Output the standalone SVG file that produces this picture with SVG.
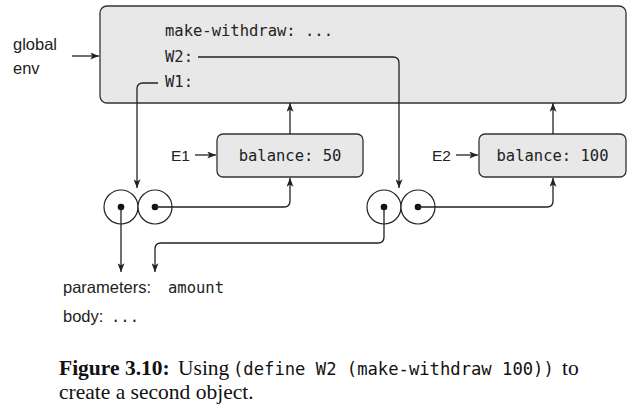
<svg xmlns="http://www.w3.org/2000/svg" width="640" height="411" viewBox="0 0 640 411">
<defs>
<marker id="ah" viewBox="0 0 10 8" refX="10" refY="4" markerWidth="9" markerHeight="7" markerUnits="userSpaceOnUse" orient="auto">
<path d="M0,0 L10,4 L0,8 L2.5,4 Z" fill="#222"/>
</marker>
</defs>
<style>
.frame{fill:#e8e8e8;stroke:#333;stroke-width:1.3}
.mono{font-family:"DejaVu Sans Mono",monospace;font-size:15.5px;fill:#222}
.sans{font-family:"Liberation Sans",Arial,sans-serif;font-size:16.5px;fill:#222}
.lab{font-family:"Liberation Sans",Arial,sans-serif;font-size:15.5px;fill:#222}
.arr{fill:none;stroke:#222;stroke-width:1.3;marker-end:url(#ah)}
.cell{fill:#fff;stroke:#222;stroke-width:1.2}
.dot{fill:#111}
.cap{font-family:"Liberation Serif","Times New Roman",serif;font-size:21.5px;fill:#111}
.capm{font-family:"DejaVu Sans Mono",monospace;font-size:17.2px}
</style>
<rect width="640" height="411" fill="#fff"/>
<g id="global-env">
<rect class="frame" x="100" y="6" width="526" height="97" rx="7"/>
<text class="mono" x="165" y="36">make-withdraw: ...</text>
<text class="mono" x="165" y="61.5">W2:</text>
<text class="mono" x="165" y="87">W1:</text>
</g>
<g id="global-label">
<text class="sans" x="13" y="50">global</text>
<text class="sans" x="13" y="74">env</text>
</g>
<g id="E1">
<rect class="frame" x="217" y="134" width="146" height="43" rx="6"/>
<text class="mono" x="290" y="161" text-anchor="middle">balance: 50</text>
<text class="lab" x="171" y="161">E1</text>
</g>
<g id="E2">
<rect class="frame" x="479" y="134" width="147" height="43" rx="6"/>
<text class="mono" x="552.5" y="161" text-anchor="middle">balance: 100</text>
<text class="lab" x="432" y="161">E2</text>
</g>
<g id="W1-pair">
<circle class="cell" cx="121" cy="207" r="17"/>
<circle class="cell" cx="155" cy="207" r="17"/>
<circle class="dot" cx="121" cy="207" r="3.3"/>
<circle class="dot" cx="155" cy="207" r="3.3"/>
</g>
<g id="W2-pair">
<circle class="cell" cx="384" cy="207" r="17"/>
<circle class="cell" cx="418" cy="207" r="17"/>
<circle class="dot" cx="384" cy="207" r="3.3"/>
<circle class="dot" cx="418" cy="207" r="3.3"/>
</g>
<g id="procedure">
<text class="sans" x="63" y="293">parameters:</text>
<text class="mono" x="168" y="293">amount</text>
<text class="sans" x="63" y="322">body:</text>
<text class="mono" x="111" y="322">...</text>
</g>
<g id="connectors">
<path class="arr" d="M72,56 H99"/>
<path class="arr" d="M195,155 H216"/>
<path class="arr" d="M456,155 H478"/>
<path class="arr" d="M198,57 H393 Q399,57 399,63 V188"/>
<path class="arr" d="M158,83 H143 Q137,83 137,89 V188"/>
<path class="arr" d="M290,134 V103"/>
<path class="arr" d="M553,134 V103"/>
<path class="arr" d="M155,207 H284 Q290,207 290,201 V178"/>
<path class="arr" d="M418,207 H547 Q553,207 553,201 V178"/>
<path class="arr" d="M121,207 V272"/>
<path class="arr" d="M384,207 V237 Q384,243 378,243 H161 Q155,243 155,249 V272"/>
</g>
<g id="caption">
<text class="cap" y="375"><tspan x="59" font-weight="bold">Figure 3.10:</tspan><tspan x="178">Using</tspan><tspan x="233" class="capm">(define W2 (make-withdraw 100))</tspan><tspan x="562">to</tspan></text>
<text class="cap" x="59" y="399">create a second object.</text>
</g>
</svg>
